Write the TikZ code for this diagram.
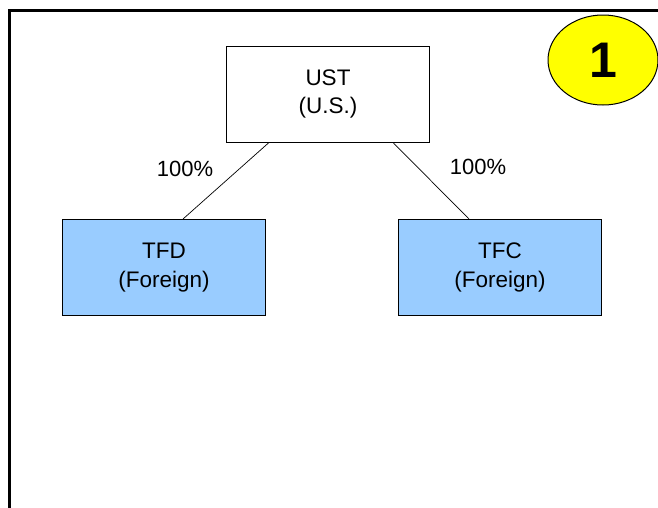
\documentclass[tikz,border=0pt]{standalone}
\usepackage{fontspec}
\setmainfont{Liberation Sans}
\usetikzlibrary{shapes.geometric}
\definecolor{entityblue}{HTML}{99CCFF}
\definecolor{badgeyellow}{HTML}{FFFF00}
\begin{document}
\begin{tikzpicture}[x=1pt,y=-1pt,
  entity/.style={draw=black,line width=1pt,minimum width=203pt,minimum height=96pt,
    align=center,inner sep=0pt,font=\fontsize{22.5}{28.5}\selectfont},
  usbox/.style={entity,fill=white},
  foreignbox/.style={entity,fill=entityblue},
  link/.style={draw=black,line width=0.7pt},
  pct/.style={font=\fontsize{22}{26}\selectfont,inner sep=0pt},
  badge/.style={ellipse,draw=black,line width=1pt,fill=badgeyellow,minimum width=110pt,
    minimum height=90pt,inner sep=0pt,font=\fontsize{50}{50}\selectfont\bfseries}]
  \useasboundingbox (0,0) rectangle (658,507);
  \clip (0,0) rectangle (658,507);
  % page frame (only its left and top edges fall inside the picture)
  \draw[line width=3pt] (9.5,560) -- (9.5,10.5) -- (700,10.5);
  % ownership badge
  \node[badge] (badge) at (603,60) {1};
  % entities
  \node[usbox] (ust) at (328,94) {UST\\(U.S.)};
  \node[foreignbox] (tfd) at (164,267.5) {TFD\\(Foreign)};
  \node[foreignbox] (tfc) at (500,267.5) {TFC\\(Foreign)};
  % ownership lines
  \coordinate (ustL) at ([xshift=-59pt]ust.south);
  \coordinate (ustR) at ([xshift=65pt]ust.south);
  \coordinate (tfdT) at ([xshift=19pt]tfd.north);
  \coordinate (tfcT) at ([xshift=-31pt]tfc.north);
  \draw[link] (ustL) -- (tfdT);
  \draw[link] (ustR) -- (tfcT);
  \node[pct] (pctL) at (185,169) {100\%};
  \node[pct] (pctR) at (478,167) {100\%};
\end{tikzpicture}
\end{document}
